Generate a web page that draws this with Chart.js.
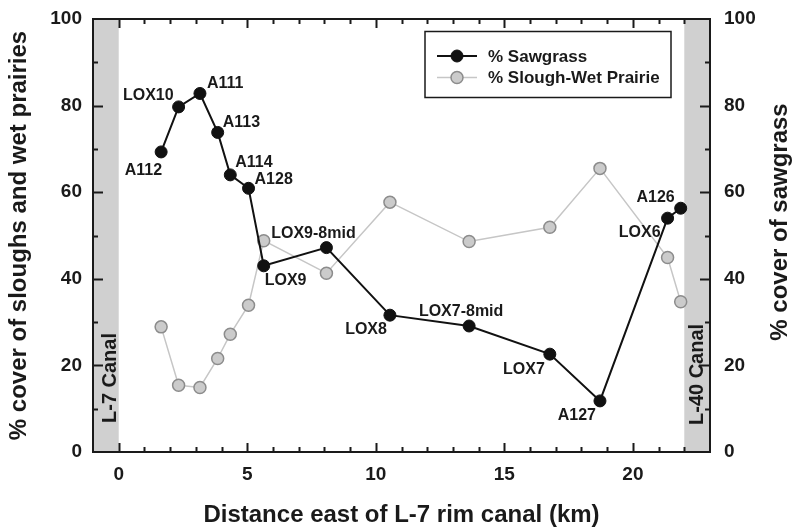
<!DOCTYPE html>
<html>
<head>
<meta charset="utf-8">
<title>Sawgrass and slough cover along the transect</title>
<script src="https://cdn.jsdelivr.net/npm/chart.js@4.4.1/dist/chart.umd.min.js"></script>
<style>
  html, body { margin: 0; padding: 0; background: #fff; }
</style>
</head>
<body>
<canvas id="coverChart" width="797" height="528"></canvas>
<script>
// sites along the transect, distance east of the L-7 rim canal (km)
const sites = ['A112', 'LOX10', 'A111', 'A113', 'A114', 'A128', 'LOX9', 'LOX9-8mid',
               'LOX8', 'LOX7-8mid', 'LOX7', 'A127', 'LOX6', 'A126'];
const distances = [1.65, 2.33, 3.16, 3.85, 4.34, 5.05, 5.64, 8.08, 10.55, 13.63, 16.77, 18.72, 21.35, 21.86];
// % cover at each site
const sawgrass = [69.3, 79.7, 82.8, 73.8, 64.0, 60.9, 43.0, 47.2, 31.6, 29.1, 22.6, 11.8, 54.0, 56.3];
const slough = [28.9, 15.4, 14.9, 21.6, 27.2, 33.9, 48.8, 41.3, 57.7, 48.6, 51.9, 65.5, 44.9, 34.7];
const xTicks = [0, 5, 10, 15, 20];
const yTicks = [0, 20, 40, 60, 80, 100];

const FONT = '"Liberation Sans", Arial, Helvetica, sans-serif';
const INK = '#1a1a1a';
Chart.defaults.font.family = FONT;
Chart.defaults.color = INK;

// where each site name sits relative to its sawgrass point: [dx, dy, align]
const labelPlace = [
    [1, 19, 'right'], [-5, -11, 'right'], [7, -10, 'left'], [5, -10, 'left'],
    [5, -12, 'left'], [6, -9, 'left'], [1, 15, 'left'], [-13, -14, 'center'],
    [-3, 14, 'right'], [-8, -14, 'center'], [-5, 15, 'right'], [-4, 15, 'right'],
    [-7, 14, 'right'], [-6, -11, 'right']
];

function textUp(ctx, text, x, y) {
    ctx.save();
    ctx.translate(x, y);
    ctx.rotate(-Math.PI / 2);
    ctx.fillText(text, 0, 0);
    ctx.restore();
}

// keep the plot box fixed: no extra padding from tick labels
function fixBox(s, size) {
    if (s.isHorizontal()) s.height = size; else s.width = size;
    s.paddingTop = 0;
    s.paddingBottom = 0;
    s.paddingLeft = 0;
    s.paddingRight = 0;
}

// canal bands, frame with inward ticks, site names, legend, right title
const decorations = {
    id: 'decorations',
    beforeDatasetsDraw(chart) {
        const { ctx, chartArea: a, scales: { x } } = chart;
        const l0 = x.getPixelForValue(-1), l1 = x.getPixelForValue(0);
        const r0 = x.getPixelForValue(22), r1 = x.getPixelForValue(23);
        ctx.save();
        ctx.fillStyle = '#d0d0d0';
        ctx.fillRect(l0, a.top, l1 - l0, a.bottom - a.top);
        ctx.fillRect(r0, a.top, r1 - r0, a.bottom - a.top);
        ctx.fillStyle = INK;
        ctx.font = 'bold 20px ' + FONT;
        ctx.textAlign = 'left';
        ctx.textBaseline = 'alphabetic';
        textUp(ctx, 'L-7 Canal', l1 - 3, a.bottom - 29);
        textUp(ctx, 'L-40 Canal', r1 - 7, a.bottom - 27);
        ctx.restore();
    },
    afterDraw(chart) {
        const { ctx, chartArea: a, scales: { x, y } } = chart;
        ctx.save();

        // frame
        ctx.strokeStyle = INK;
        ctx.lineWidth = 2;
        ctx.strokeRect(a.left, a.top, a.right - a.left, a.bottom - a.top);

        // inward ticks
        ctx.beginPath();
        for (let v = 0; v <= 22; v++) {
            const px = Math.round(x.getPixelForValue(v)) + 0.5;
            const len = v % 5 === 0 ? 9 : 5;
            ctx.moveTo(px, a.bottom); ctx.lineTo(px, a.bottom - len);
            ctx.moveTo(px, a.top); ctx.lineTo(px, a.top + len);
        }
        for (let v = 10; v < 100; v += 10) {
            const py = Math.round(y.getPixelForValue(v)) + 0.5;
            const len = v % 20 === 0 ? 10 : 5;
            ctx.moveTo(a.left, py); ctx.lineTo(a.left + len, py);
            ctx.moveTo(a.right, py); ctx.lineTo(a.right - len, py);
        }
        ctx.stroke();

        // site names next to the sawgrass points
        const meta = chart.getDatasetMeta(0);
        ctx.fillStyle = INK;
        ctx.font = 'bold 16px ' + FONT;
        ctx.textBaseline = 'middle';
        meta.data.forEach((pt, i) => {
            const [dx, dy, align] = labelPlace[i];
            ctx.textAlign = align;
            ctx.fillText(sites[i], pt.x + dx, pt.y + dy);
        });

        // legend
        ctx.lineWidth = 1.5;
        ctx.strokeStyle = INK;
        ctx.strokeRect(425, 31.5, 246, 66);
        ctx.font = 'bold 17px ' + FONT;
        ctx.textAlign = 'left';
        chart.data.datasets.forEach((ds, i) => {
            const ly = 56 + i * 21.5;
            ctx.strokeStyle = ds.borderColor;
            ctx.lineWidth = ds.borderWidth;
            ctx.beginPath();
            ctx.moveTo(437, ly); ctx.lineTo(477, ly);
            ctx.stroke();
            ctx.beginPath();
            ctx.arc(457, ly, ds.pointRadius, 0, Math.PI * 2);
            ctx.fillStyle = ds.pointBackgroundColor;
            ctx.fill();
            ctx.lineWidth = ds.pointBorderWidth;
            ctx.strokeStyle = ds.pointBorderColor;
            ctx.stroke();
            ctx.fillStyle = INK;
            ctx.fillText(ds.label, 488, ly + 1);
        });

        // right axis title, reading upward like the left one
        ctx.font = 'bold 24px ' + FONT;
        ctx.textAlign = 'center';
        ctx.textBaseline = 'middle';
        textUp(ctx, '% cover of sawgrass', 780, 222);

        ctx.restore();
    }
};

new Chart(document.getElementById('coverChart'), {
    type: 'line',
    data: {
        datasets: [{
            label: '% Sawgrass',
            data: distances.map((d, i) => ({ x: d, y: sawgrass[i] })),
            yAxisID: 'y2',
            borderColor: '#111111',
            borderWidth: 2,
            pointRadius: 6,
            pointBackgroundColor: '#111111',
            pointBorderColor: '#111111',
            pointBorderWidth: 1,
            tension: 0,
            order: 1
        }, {
            label: '% Slough-Wet Prairie',
            data: distances.map((d, i) => ({ x: d, y: slough[i] })),
            yAxisID: 'y',
            borderColor: '#c6c6c6',
            borderWidth: 1.5,
            pointRadius: 6,
            pointBackgroundColor: '#cbcbcb',
            pointBorderColor: '#8c8c8c',
            pointBorderWidth: 1.5,
            tension: 0,
            order: 2
        }]
    },
    options: {
        responsive: false,
        animation: false,
        layout: { padding: { top: 19, left: 0, right: 0, bottom: 0 }, autoPadding: false },
        plugins: { legend: { display: false }, tooltip: { enabled: false } },
        scales: {
            x: {
                type: 'linear',
                min: -1,
                max: 23,
                afterBuildTicks: s => { s.ticks = xTicks.map(v => ({ value: v })); },
                afterFit: s => fixBox(s, 76),
                grid: { display: false, drawTicks: false },
                border: { display: false },
                ticks: { autoSkip: false, padding: 11, font: { size: 19, weight: 'bold' }, color: INK },
                title: {
                    display: true,
                    text: 'Distance east of L-7 rim canal (km)',
                    font: { size: 24, weight: 'bold', lineHeight: 1 },
                    padding: { top: 0, bottom: 1 },
                    color: INK
                }
            },
            y: {
                position: 'left',
                min: 0,
                max: 100,
                afterBuildTicks: s => { s.ticks = yTicks.map(v => ({ value: v })); },
                afterFit: s => fixBox(s, 93),
                grid: { display: false, drawTicks: false },
                border: { display: false },
                ticks: { autoSkip: false, padding: 11, font: { size: 19, weight: 'bold' }, color: INK },
                title: {
                    display: true,
                    text: '% cover of sloughs and wet prairies',
                    font: { size: 24, weight: 'bold', lineHeight: 1 },
                    padding: { top: 7, bottom: 0 },
                    color: INK
                }
            },
            y2: {
                position: 'right',
                min: 0,
                max: 100,
                afterBuildTicks: s => { s.ticks = yTicks.map(v => ({ value: v })); },
                afterFit: s => fixBox(s, 87),
                grid: { display: false, drawTicks: false },
                border: { display: false },
                ticks: { autoSkip: false, padding: 14, font: { size: 19, weight: 'bold' }, color: INK }
            }
        }
    },
    plugins: [decorations]
});
</script>
</body>
</html>
